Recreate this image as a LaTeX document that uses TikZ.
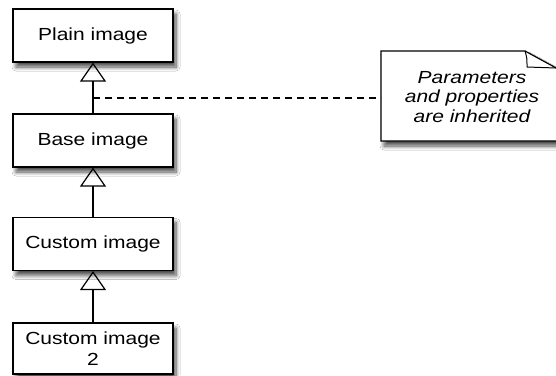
\documentclass[tikz,border=0pt]{standalone}
\usepackage{fontspec}
\setmainfont[FakeStretch=1.2]{Liberation Sans}
\usetikzlibrary{arrows.meta,shadows.blur}
\begin{document}
\begin{tikzpicture}[x=1pt,y=-1pt,
  box/.style={draw=black,line width=1.2pt,fill=white,minimum width=160pt,minimum height=53pt,
    inner sep=0pt,align=center,font=\fontsize{17.5}{20.5}\selectfont,
    blur shadow={shadow xshift=3pt,shadow yshift=-5pt,shadow blur steps=8,shadow blur radius=4pt,shadow opacity=70}},
  inherit/.style={line width=1.2pt,-{Triangle[open,width=26pt,length=19pt,line width=1.2pt]}},
  link/.style={line width=1.1pt,dash pattern=on 7pt off 5pt},
  notetext/.style={align=center,font=\fontsize{17.5}{19.5}\selectfont\itshape,inner sep=0pt}]
\useasboundingbox (0,0) rectangle (556,375);
\fill[white] (0,0) rectangle (556,375);
\node[box] (plain) at (93,35.5) {Plain image};
\node[box] (base) at (93,140.5) {Base image};
\node[box] (custom) at (93,244) {Custom image};
\node[box,minimum height=51pt] (custom2) at (93,348.5) {Custom image\\2};
\draw[inherit] (base.north) -- (plain.south);
\draw[inherit] (custom.north) -- (base.south);
\draw[inherit] (custom2.north) -- (custom.south);
% note
\path[blur shadow={shadow xshift=3pt,shadow yshift=-5pt,shadow blur steps=8,shadow blur radius=4pt,shadow opacity=70}]
  (381,51) -- (525,51) -- (558,69) -- (558,141) -- (381,141) -- cycle;
\draw[line width=1.2pt,fill=white] (381,51) -- (525,51) -- (558,69) -- (558,141) -- (381,141) -- cycle;
\draw[line width=1pt] (525,51) .. controls (527,58) .. (527,67) -- (556,68);
\node[notetext] (note) at (472,97) {Parameters\\and properties\\are inherited};
\coordinate (lk) at (93,98);
\draw[link] (lk) -- (381,98);
\end{tikzpicture}
\end{document}
